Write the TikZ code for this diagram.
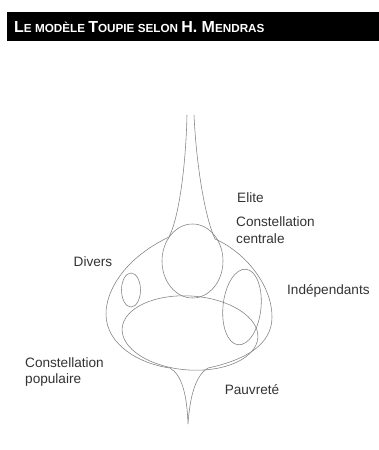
\documentclass[tikz,border=0pt]{standalone}
\usepackage{fontspec}
\setmainfont{Liberation Sans}
\usepackage{tikz}
\usetikzlibrary{positioning}

\begin{document}
\begin{tikzpicture}[
  x=1pt, y=1pt,
  every node/.style={font=\fontsize{13.6}{16.5}\selectfont, text=black!80, inner sep=0pt},
  outline/.style={draw=black!50, line width=0.55pt},
  lbl/.style={align=left, anchor=west}
]
  \useasboundingbox (0,0) rectangle (379,-450);
  \fill[white] (0,0) rectangle (379,-450);
  % title bar
  \fill[black] (7,-12) rectangle (379,-41);
  \node[anchor=west, text=white, font=\bfseries] (title) at (14,-27)
    {{\fontsize{16}{16}\selectfont L}{\fontsize{11.7}{11.7}\selectfont E MODÈLE }%
     {\fontsize{16}{16}\selectfont T}{\fontsize{11.7}{11.7}\selectfont OUPIE SELON }%
     {\fontsize{16}{16}\selectfont H. M}{\fontsize{11.7}{11.7}\selectfont ENDRAS}};

  % spire
  \draw[outline] (169,-237) .. controls (180,-215) and (186,-160) .. (187,-115);
  \draw[outline] (215,-239) .. controls (204,-215) and (196,-160) .. (194,-115);
  % body and lower tip
  \draw[outline] (169,-237) .. controls (125,-258) and (106,-290) .. (106,-314)
    .. controls (106,-345) and (140,-364) .. (170,-368)
    .. controls (182,-375) and (187,-395) .. (188,-424)
    .. controls (190,-395) and (196,-375) .. (208,-368)
    .. controls (245,-360) and (272,-345) .. (272,-317)
    .. controls (272,-285) and (245,-252) .. (215,-239);
  % inner groups
  \draw[outline] (192.5,-261) ellipse [x radius=30.5, y radius=37];
  \draw[outline, rotate around={-4:(190,-333)}] (190,-333) ellipse [x radius=68, y radius=37];
  \draw[outline] (131,-290) ellipse [x radius=9.5, y radius=17];
  \draw[outline, rotate around={-6:(242,-307)}] (242,-307) ellipse [x radius=19, y radius=38];

  \node[lbl] (elite) at (237,-198) {Elite};
  \node[lbl] (centrale) at (236,-230) {Constellation\\centrale};
  \node (divers) at (93,-262) {Divers};
  \node[lbl] (indep) at (287,-291) {Indépendants};
  \node[lbl] (populaire) at (25,-372) {Constellation\\populaire};
  \node (pauvrete) at (252,-390) {Pauvreté};
\end{tikzpicture}
\end{document}
